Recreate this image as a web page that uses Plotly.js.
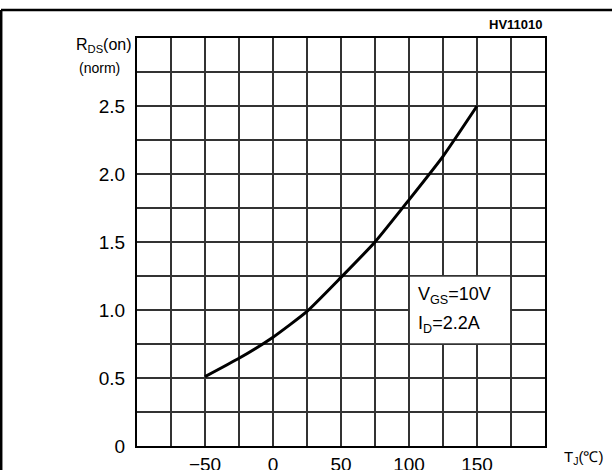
<!DOCTYPE html>
<html>
<head>
<meta charset="utf-8">
<script src="https://cdn.plot.ly/plotly-3.0.1.min.js"></script>
<style>
  html, body { margin: 0; padding: 0; background: #fff; }
  #chart { width: 612px; height: 470px; }
</style>
</head>
<body>
<div id="chart"></div>
<script>
// Data
const tempC = [-50, -25, 0, 25, 50, 75, 100, 125, 150];
const rdsNorm = [0.51, 0.645, 0.80, 0.99, 1.24, 1.50, 1.81, 2.13, 2.5];

const xTicks = [-50, 0, 50, 100, 150];
const xLabels = ['\u221250', '0', '50', '100', '150'];
const xGrid = [-75, -50, -25, 0, 25, 50, 75, 100, 125, 150, 175];
const yTicks = [0, 0.5, 1, 1.5, 2, 2.5];
const yLabels = ['0', '0.5', '1.0', '1.5', '2.0', '2.5'];
const yGrid = [0.25, 0.5, 0.75, 1, 1.25, 1.5, 1.75, 2, 2.25, 2.5, 2.75];

const chartId = 'HV11010';
const condLines = ['V<sub>GS</sub>=10V', 'I<sub>D</sub>=2.2A'];

// plot box geometry (pixels)
const W = 612, H = 470;
const L = 137, R = 545, T = 38, B = 446;
const px = v => (v - L) / (R - L);
const py = v => (B - v) / (B - T);

const font = 'Liberation Sans, Arial, sans-serif';
const gridCol = '#333';

const trace = {
  x: tempC, y: rdsNorm, type: 'scatter', mode: 'lines',
  line: { color: '#000', width: 3, shape: 'spline', smoothing: 0.5 },
  hoverinfo: 'skip', showlegend: false
};

const layout = {
  width: W, height: H,
  margin: { l: L, r: W - R, t: T, b: H - B, pad: 0 },
  paper_bgcolor: '#fff', plot_bgcolor: '#fff',
  showlegend: false,
  xaxis: {
    range: [-100, 200], tickmode: 'array', tickvals: xTicks, ticktext: xLabels,
    showgrid: true, gridcolor: gridCol, gridwidth: 1.4,
    minor: { tickmode: 'array', tickvals: xGrid, showgrid: true, gridcolor: gridCol, gridwidth: 1.4, ticks: '' },
    showline: true, linecolor: '#000', linewidth: 2, mirror: true,
    ticks: '', zeroline: false, fixedrange: true,
    tickfont: { family: font, size: 19, color: '#000' }
  },
  yaxis: {
    range: [0, 3], tickmode: 'array', tickvals: yTicks, ticktext: yLabels,
    showgrid: true, gridcolor: gridCol, gridwidth: 1.4,
    minor: { tickmode: 'array', tickvals: yGrid, showgrid: true, gridcolor: gridCol, gridwidth: 1.4, ticks: '' },
    showline: true, linecolor: '#000', linewidth: 2, mirror: true,
    ticks: '', ticklabelstandoff: 6, zeroline: false, fixedrange: true,
    tickfont: { family: font, size: 19, color: '#000' }
  },
  shapes: [
    // white condition box
    { type: 'rect', xref: 'x', yref: 'y', x0: 100.7, x1: 174.3, y0: 0.756, y1: 1.244,
      fillcolor: '#fff', line: { width: 0 }, layer: 'above' },
    // outer frame
    { type: 'line', xref: 'paper', yref: 'paper', x0: px(1), x1: px(612), y0: py(10), y1: py(10),
      line: { color: '#000', width: 2.5 } },
    { type: 'line', xref: 'paper', yref: 'paper', x0: px(1.2), x1: px(1.2), y0: py(10), y1: py(470),
      line: { color: '#000', width: 2.5 } }
  ],
  annotations: [
    { xref: 'paper', yref: 'paper', x: px(545), y: py(34), xanchor: 'right', yanchor: 'bottom',
      text: '<b>' + chartId + '</b>', showarrow: false,
      font: { family: font, size: 13, color: '#000' } },
    { xref: 'paper', yref: 'paper', x: px(134), y: py(45), xanchor: 'right', yanchor: 'middle',
      text: 'R<sub>DS</sub>(on)', showarrow: false,
      font: { family: font, size: 16, color: '#000' } },
    { xref: 'paper', yref: 'paper', x: px(122), y: py(68), xanchor: 'right', yanchor: 'middle',
      text: '(norm)', showarrow: false,
      font: { family: font, size: 14, color: '#000' } },
    { xref: 'paper', yref: 'paper', x: px(562), y: py(458), xanchor: 'left', yanchor: 'middle',
      text: 'T<sub>J</sub>(\u2103)', showarrow: false,
      font: { family: font, size: 15, color: '#000' } },
    { xref: 'x', yref: 'y', x: 105.5, y: 1.11, xanchor: 'left', yanchor: 'middle',
      text: condLines[0], showarrow: false,
      font: { family: font, size: 18, color: '#000' } },
    { xref: 'x', yref: 'y', x: 105.5, y: 0.89, xanchor: 'left', yanchor: 'middle',
      text: condLines[1], showarrow: false,
      font: { family: font, size: 18, color: '#000' } }
  ]
};

Plotly.newPlot('chart', [trace], layout, { displayModeBar: false, staticPlot: true });
</script>
</body>
</html>
